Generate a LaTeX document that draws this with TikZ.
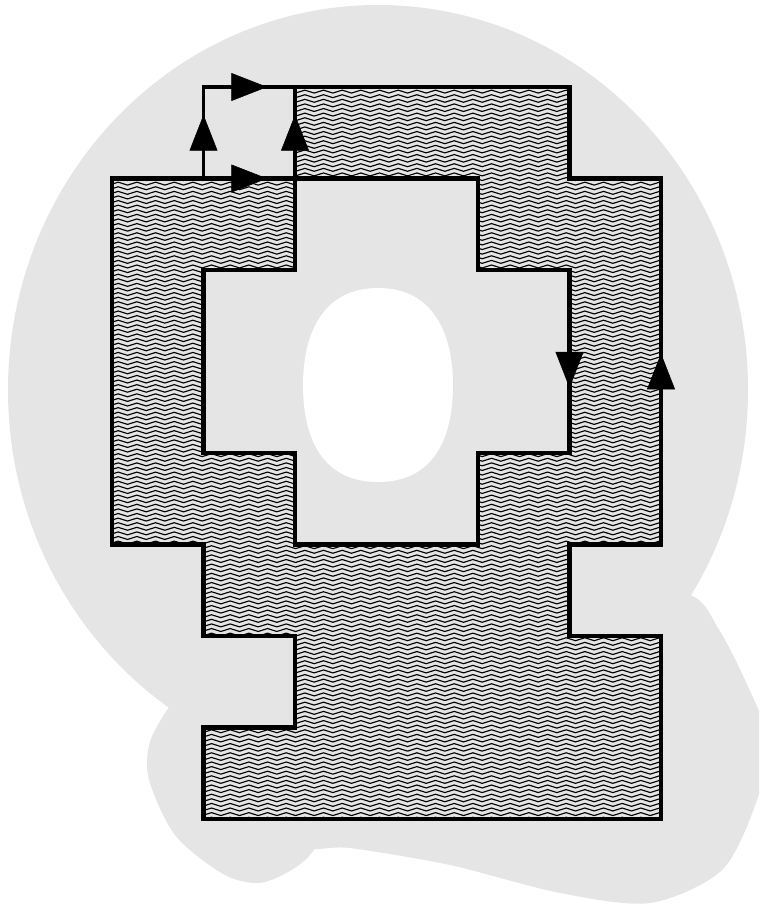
\documentclass[tikz,border=0pt]{standalone}
\usepackage{tikz}
\usetikzlibrary{arrows.meta,decorations.pathmorphing,decorations.markings}
\definecolor{fundo}{HTML}{E5E5E5}
\tikzset{
  borda/.style={line width=3.3pt, line join=miter},
  laco/.style={line width=2.6pt},
  ondas/.style={line width=0.85pt, decorate, decoration={snake, amplitude=1.1pt, segment length=14pt}},
  seta/.style={postaction={decorate}, decoration={markings,
    mark=at position #1 with {\arrow[xshift=13.5pt]{Triangle[length=27pt,width=21pt]}}}},
  seta/.default=0.5
}

\begin{document}
\begin{tikzpicture}[x=0.75pt, y=-0.75pt]
  \useasboundingbox (0,0) rectangle (759,905);
  \clip (0,0) rectangle (759,905);
  % fundo
  \fill[fundo] (378,390) ellipse [x radius=370, y radius=385];
  \fill[fundo] plot[smooth cycle] coordinates {(200,680) (155,730) (148,775) (175,835) (225,875) (265,882) (310,855) (330,800) (280,720)};
  \fill[fundo] plot[smooth cycle] coordinates {(300,845) (350,848) (450,865) (560,893) (650,903) (722,870) (757,800) (768,740) (745,680) (718,628) (690,595) (600,585) (450,650) (330,780)};
  % buraco
  \fill[white] (378,288) .. controls (322,288) and (303,335) .. (303,385)
    .. controls (303,442) and (325,482) .. (378,482)
    .. controls (431,482) and (453,442) .. (453,385)
    .. controls (453,335) and (434,288) .. (378,288) -- cycle;
  % regiao
  \begin{scope}[shift={(112,87)}, x=68.625pt, y=-68.625pt]
    \def\fora{(2,0) -| (5,1) -| (6,5) -| (5,6) -| (6,8) -| (1,7) -| (2,6) -| (1,5) -| (0,1) -- (2,1) -- cycle}
    \def\dentro{(2,1) -| (4,2) -| (5,4) -| (4,5) -| (2,4) -| (1,2) -| (2,1) -- cycle}
    \begin{scope}[even odd rule]
      \clip \fora \dentro;
      \fill[fundo] (-0.1,-0.1) rectangle (6.1,8.1);
      \foreach \k in {0,...,162}
        \draw[ondas] (-0.2,{\k*0.0503}) -- (6.3,{\k*0.0503});
    \end{scope}
    \draw[borda] \fora \dentro;
    % laco
    \coordinate (p) at (1,1);
    \coordinate (q) at (1,0);
    \coordinate (r) at (2,0);
    \coordinate (s) at (2,1);
    \draw[laco] (p) -- (q) -- (r);
    % setas
    \path[seta] (p) -- (q);
    \path[seta] (q) -- (r);
    \path[seta] (p) -- (s);
    \path[seta] (s) -- (r);
    \path[seta=0.546] (5,2) -- (5,4);
    \path[seta=0.473] (6,5) -- (6,1);
  \end{scope}
\end{tikzpicture}
\end{document}
